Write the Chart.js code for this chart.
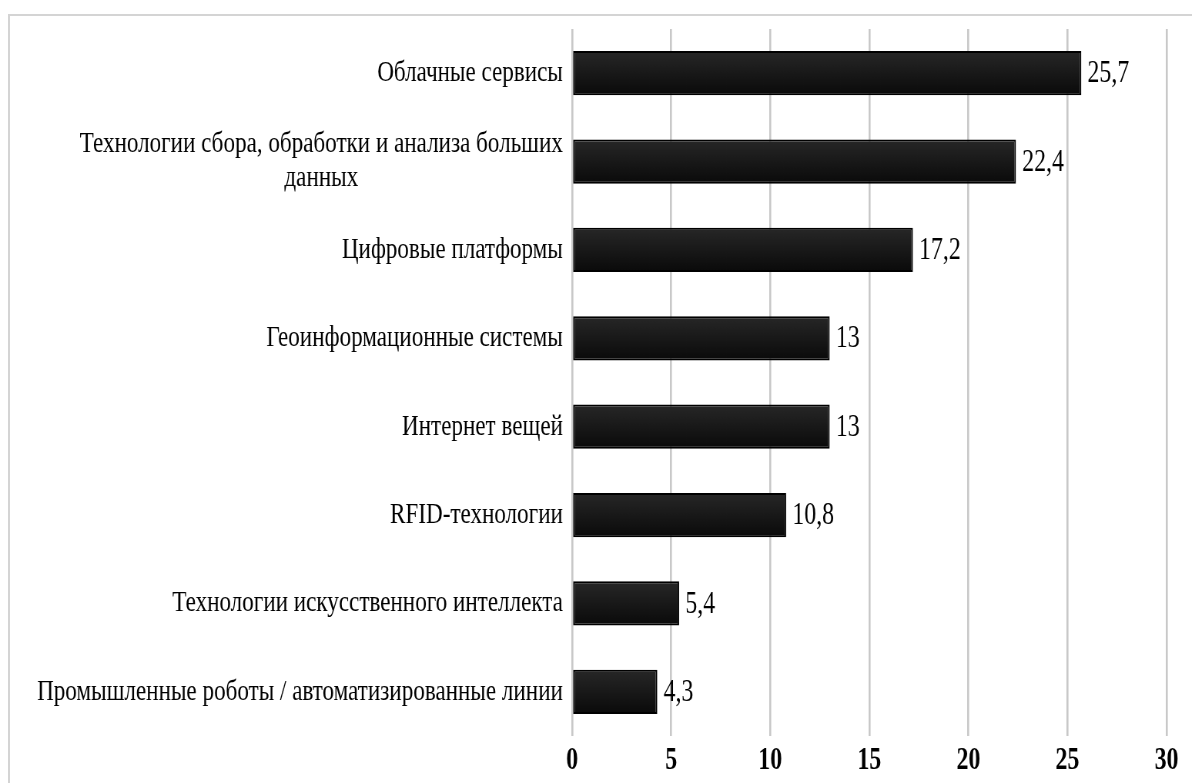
<!DOCTYPE html>
<html>
<head>
<meta charset="utf-8">
<script src="https://cdn.jsdelivr.net/npm/chart.js@4"></script>
<style>
    html, body { margin: 0; padding: 0; background: #fff; overflow: hidden; }
    #frame {
        position: absolute; left: 8px; top: 14px; width: 1300px; height: 900px;
        border-left: 2px solid #d4d4d4; border-top: 2px solid #d4d4d4;
    }
    #wrap {
        position: absolute; left: 0; top: 0;
        transform: scaleX(0.77); transform-origin: 0 0;
    }
</style>
</head>
<body>
<div id="frame"></div>
<div id="wrap"><canvas id="myChart" width="1548" height="783"></canvas></div>
<script>
const categories = [
    'Облачные сервисы',
    ['Технологии сбора, обработки и анализа больших', 'данных'],
    'Цифровые платформы',
    'Геоинформационные системы',
    'Интернет вещей',
    'RFID-технологии',
    'Технологии искусственного интеллекта',
    'Промышленные роботы / автоматизированные линии'
];
const values = [25.7, 22.4, 17.2, 13, 13, 10.8, 5.4, 4.3];
const xMin = 0;
const xMax = 30;
const xStep = 5;

const S = 0.77; // horizontal squash of the whole picture
const FONT = '"Liberation Serif", "Times New Roman", serif';

function fmt(v) {
    return String(v).replace('.', ',');
}

// category labels: block right aligned, lines centred inside the block
const catLabels = {
    id: 'catLabels',
    afterDraw(chart) {
        const ctx = chart.ctx;
        const scale = chart.scales.y;
        const right = chart.chartArea.left - 12;
        ctx.save();
        ctx.font = '30px ' + FONT;
        ctx.fillStyle = '#000';
        ctx.textAlign = 'center';
        ctx.textBaseline = 'middle';
        categories.forEach(function (label, i) {
            const lines = Array.isArray(label) ? label : [label];
            let maxW = 0;
            lines.forEach(function (l) { maxW = Math.max(maxW, ctx.measureText(l).width); });
            const cx = right - maxW / 2;
            const y = scale.getPixelForTick(i);
            lines.forEach(function (l, j) {
                ctx.fillText(l, cx, y + (j - (lines.length - 1) / 2) * 34);
            });
        });
        ctx.restore();
    }
};

// value labels at the end of each bar
const valueLabels = {
    id: 'valueLabels',
    afterDatasetsDraw(chart) {
        const ctx = chart.ctx;
        const meta = chart.getDatasetMeta(0);
        ctx.save();
        ctx.font = '31px ' + FONT;
        ctx.fillStyle = '#000';
        ctx.textAlign = 'left';
        ctx.textBaseline = 'middle';
        meta.data.forEach(function (bar, i) {
            ctx.fillText(fmt(values[i]), bar.x + 8, bar.y + 1);
        });
        ctx.restore();
    }
};

const ctx = document.getElementById('myChart');

const myChart = new Chart(ctx, {
    type: 'bar',
    data: {
        labels: categories,
        datasets: [{
            data: values,
            backgroundColor: function (c) {
                const chart = c.chart;
                if (!chart.chartArea || c.dataIndex === undefined) {
                    return '#161616';
                }
                const y = chart.scales.y.getPixelForValue(c.dataIndex);
                const g = chart.ctx.createLinearGradient(0, y - 22, 0, y + 22);
                g.addColorStop(0, '#272727');
                g.addColorStop(1, '#0a0a0a');
                return g;
            },
            borderColor: '#000',
            borderWidth: 2,
            borderSkipped: false,
            barPercentage: 0.5,
            categoryPercentage: 1.0
        }]
    },
    options: {
        responsive: false,
        animation: false,
        indexAxis: 'y',
        layout: {
            padding: {top: 29, right: 33, bottom: 0, left: 0}
        },
        plugins: {
            legend: {display: false},
            tooltip: {enabled: false}
        },
        scales: {
            x: {
                min: xMin,
                max: xMax,
                border: {display: false},
                grid: {
                    color: '#c8c8c8',
                    lineWidth: 2 / S,
                    drawTicks: false
                },
                ticks: {
                    stepSize: xStep,
                    padding: 6,
                    color: '#000',
                    font: {family: FONT, size: 31, weight: 'bold'}
                },
                afterFit: function (scale) {
                    scale.height = 47;
                }
            },
            y: {
                border: {display: false},
                grid: {display: false},
                ticks: {display: false},
                afterFit: function (scale) {
                    scale.width = 743;
                }
            }
        }
    },
    plugins: [catLabels, valueLabels]
});
</script>
</body>
</html>
